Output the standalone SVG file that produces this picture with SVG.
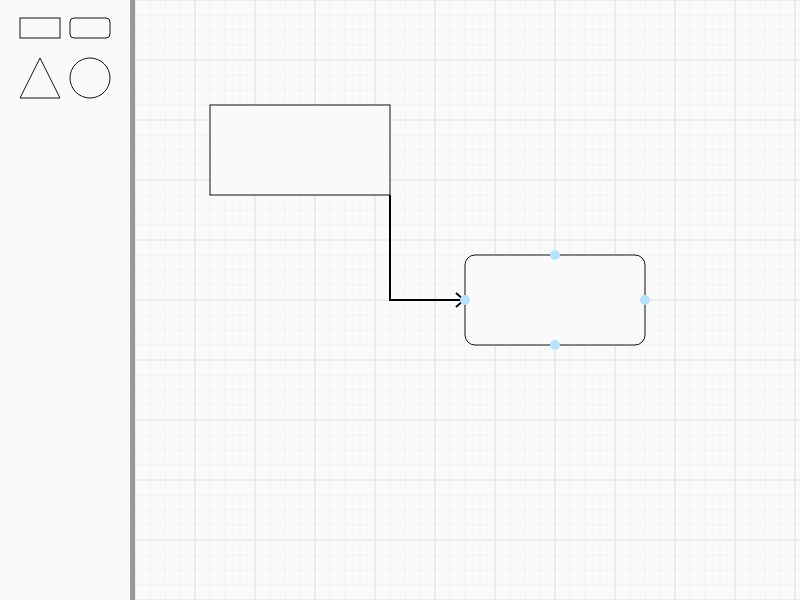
<svg xmlns="http://www.w3.org/2000/svg" width="800" height="600" viewBox="0 0 800 600">
  <defs>
    <pattern id="minor" x="127.5" y="-7.5" width="15" height="15" patternUnits="userSpaceOnUse">
      <path d="M0 7.5H15M7.5 0V15" fill="none" stroke="#f1f1f1" stroke-width="1"/>
    </pattern>
    <pattern id="major" x="105" y="-30" width="60" height="60" patternUnits="userSpaceOnUse">
      <path d="M0 30H60M30 0V60" fill="none" stroke="#e2e2e2" stroke-width="1"/>
    </pattern>
    <marker id="open" viewBox="0 0 10 16" refX="9" refY="8" markerWidth="10" markerHeight="16" markerUnits="userSpaceOnUse" orient="auto">
      <path d="M1 1L9 8L1 15" fill="none" stroke="#111" stroke-width="2"/>
    </marker>
    <style>
      .shape { fill: #fafafa; stroke: #111; stroke-width: 1; }
      .pal { fill: none; stroke: #111; stroke-width: 1; }
      .port { fill: #b5e3ff; }
      .conn { fill: none; stroke: #000; stroke-width: 2; }
    </style>
  </defs>
  <rect x="0" y="0" width="800" height="600" fill="#fafafa"/>
  <rect x="135" y="0" width="665" height="600" fill="url(#minor)"/>
  <rect x="135" y="0" width="665" height="600" fill="url(#major)"/>
  <g id="sidebar">
    <rect x="0" y="0" width="130" height="600" fill="#fafafa"/>
    <rect x="130" y="0" width="5" height="600" fill="#999"/>
    <rect x="20" y="18" width="40" height="20" class="pal"/>
    <rect x="70" y="18" width="40" height="20" rx="4" class="pal"/>
    <polygon points="40,58 60,98 20,98" class="pal"/>
    <circle cx="90" cy="78" r="20" class="pal"/>
  </g>
  <g id="connectors">
    <path d="M390 195V300H464" class="conn" marker-end="url(#open)"/>
  </g>
  <g id="node1">
    <rect x="210" y="105" width="180" height="90" class="shape"/>
  </g>
  <g id="node2">
    <rect x="465" y="255" width="180" height="90" rx="10" class="shape"/>
    <circle cx="555" cy="255" r="5" class="port"/>
    <circle cx="645" cy="300" r="5" class="port"/>
    <circle cx="555" cy="345" r="5" class="port"/>
    <circle cx="465" cy="300" r="5" class="port"/>
  </g>
</svg>
